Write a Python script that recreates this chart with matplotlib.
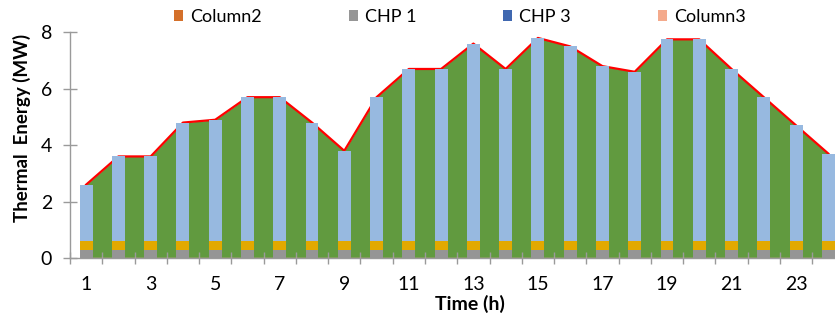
import matplotlib
matplotlib.use("Agg")
import matplotlib.pyplot as plt
from matplotlib.patches import Patch
import numpy as np

plt.rcParams['font.family'] = ['Lato', 'DejaVu Sans']

hours = list(range(1, 25))
total = [2.6, 3.6, 3.6, 4.8, 4.9, 5.7, 5.7, 4.8, 3.8, 5.7, 6.7, 6.7,
         7.6, 6.7, 7.8, 7.5, 6.8, 6.6, 7.75, 7.75, 6.7, 5.7, 4.7, 3.7]
chp1 = [0.3] * 24
chp2 = [0.3] * 24
column3 = [0.0] * 24
tick_labels = [str(h) for h in hours[::2]]
legend_labels = ['Column2', 'CHP 1', 'CHP 3', 'Column3']
legend_colors = ['#D4702A', '#969696', '#4068B0', '#F4AA8C']

W, H = 835, 326
fig = plt.figure(figsize=(W / 100, H / 100), dpi=100)
left_px, right_px = 70, 70 + 24 * 32.27
bot_px, top_px = 258, 32.3
ax = fig.add_axes([left_px / W, 1 - bot_px / H, (right_px - left_px) / W, (bot_px - top_px) / H])

x = np.arange(24)
tot = np.array(total)
c1 = np.array(chp1)
c2 = np.array(chp2)
top = tot - c1 - c2

ax.fill_between(x, 0, tot, color='#619A3F', lw=0, zorder=1)
ax.plot(x, tot, color='#FF0000', lw=1.6, zorder=2)
ax.plot(x, column3, color='#F2A8A0', lw=1.0, zorder=2)

bw = 0.4
ax.bar(x, c1, width=bw, color='#959595', zorder=3, lw=0)
ax.bar(x, c2, width=bw, bottom=c1, color='#E2A900', zorder=3, lw=0)
ax.bar(x, top, width=bw, bottom=c1 + c2, color='#97B9E0', zorder=3, lw=0)

ax.set_xlim(-0.5, 23.5)
ax.set_ylim(0, 8)
ax.set_yticks([0, 2, 4, 6, 8])
ax.set_xticks(x[::2])
ax.set_xticklabels(tick_labels)
ax.set_xticks(np.arange(-0.5, 24, 1), minor=True)

spine_c = '#9A9A9A'
for s in ['top', 'right']:
    ax.spines[s].set_visible(False)
for s in ['left', 'bottom']:
    ax.spines[s].set_color(spine_c)
    ax.spines[s].set_linewidth(1.0)

ax.tick_params(axis='x', which='major', length=0, pad=13, labelsize=14)
ax.tick_params(axis='x', which='minor', direction='inout', length=8, color=spine_c, width=1)
ax.tick_params(axis='y', which='major', direction='inout', length=10, color=spine_c, width=1,
               pad=8, labelsize=14)

ax.set_ylabel('Thermal  Energy (MW)', fontsize=13.5, fontweight='bold')
ax.yaxis.set_label_coords((22 - left_px) / (right_px - left_px), (bot_px - 127.5) / (bot_px - top_px))
ax.yaxis.label.set_va('center')
ax.set_xlabel('Time (h)', fontsize=14, fontweight='bold')
ax.xaxis.set_label_coords((470 - left_px) / (right_px - left_px), (bot_px - 304) / (bot_px - top_px))
ax.xaxis.label.set_va('center')

handles = [Patch(color=c, lw=0) for c in legend_colors]
fig.legend(handles, legend_labels, loc='center left', bbox_to_anchor=(174 / W, 1 - 17 / H),
           ncol=4, frameon=False, fontsize=13, borderpad=0, borderaxespad=0,
           handlelength=0.5, handleheight=0.5, handletextpad=0.4, columnspacing=4.8)

fig.savefig('out.png', dpi=100)
